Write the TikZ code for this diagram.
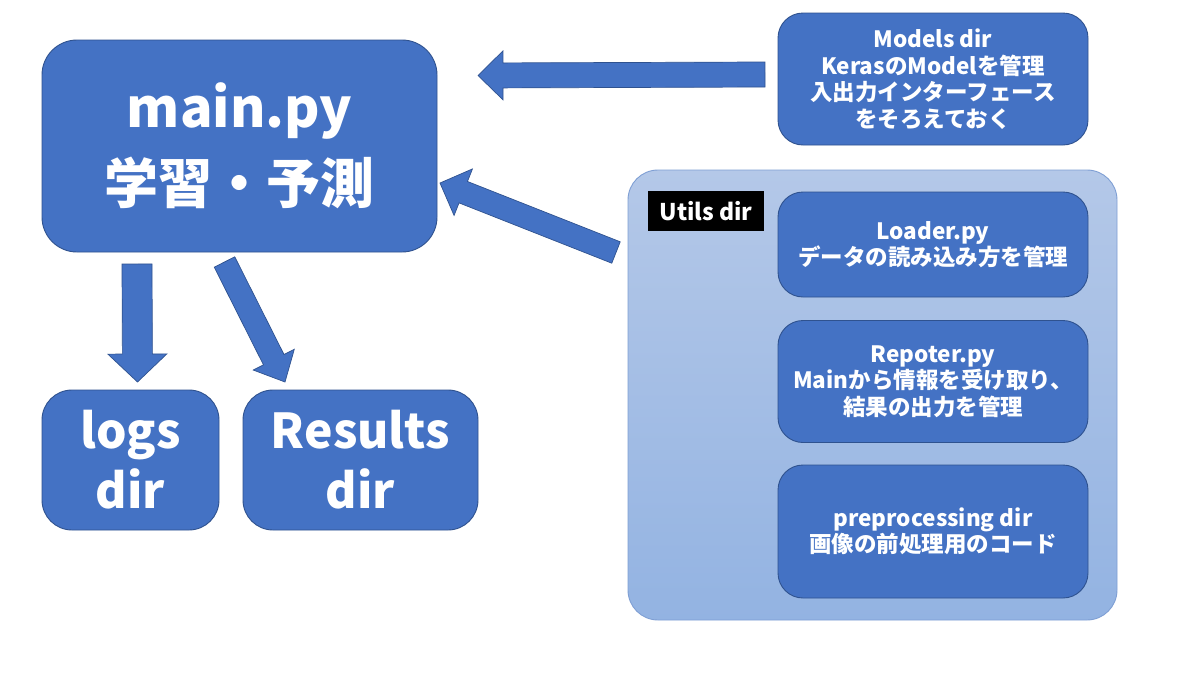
\documentclass[tikz,border=0pt]{standalone}
\usepackage{fontspec}
\setmainfont{Noto Sans CJK JP}
\usetikzlibrary{calc}
\definecolor{boxfill}{HTML}{4472C4}
\definecolor{boxline}{HTML}{2F528F}
\definecolor{utiltop}{HTML}{B4C8E8}
\definecolor{utilbot}{HTML}{93B3E2}
\definecolor{utilline}{HTML}{7F9FD4}
\tikzset{
  bluebox/.style={draw=boxline, line width=0.9pt, fill=boxfill, rounded corners=#1,
    text=white, align=center, inner sep=0pt},
  bluebox/.default=25pt,
  bigtext/.style={font=\bfseries\fontsize{54}{76}\selectfont},
  midtext/.style={font=\bfseries\fontsize{48}{60}\selectfont},
  smalltext/.style={font=\bfseries\fontsize{22.5}{26.5}\selectfont},
  utilsbox/.style={draw=utilline, line width=0.9pt, top color=utiltop, bottom color=utilbot,
    rounded corners=30pt, inner sep=0pt},
  tagbox/.style={fill=black, text=white, inner sep=0pt, font=\bfseries\fontsize{23}{26}\selectfont},
  arrowshape/.style={fill=boxfill, draw=boxline, line width=0.7pt, line join=miter},
}
\newcommand\blockarr[5]{%
  \coordinate (ba-h) at ($(#2)!#5!(#1)$);
  \draw[arrowshape] ($(#1)!#3!90:(#2)$) -- ($(ba-h)!#3!-90:(#1)$) -- ($(ba-h)!#4!-90:(#1)$)
    -- (#2) -- ($(ba-h)!#4!90:(#1)$) -- ($(ba-h)!#3!90:(#1)$) -- ($(#1)!#3!-90:(#2)$) -- cycle;
}
\begin{document}
\begin{tikzpicture}[x=1pt,y=-1pt]
\useasboundingbox[fill=white] (0,0) rectangle (1200,675);

% main boxes
\node[bluebox=35pt, bigtext, minimum width=395pt, minimum height=212pt] (main) at (239.5,146) {main.py\\学習・予測};
\node[bluebox=30pt, midtext, minimum width=177pt, minimum height=140pt] (logs) at (130.5,460) {logs\\dir};
\node[bluebox=30pt, midtext, minimum width=235pt, minimum height=140pt] (results) at (360.5,460) {Results\\dir};
\node[bluebox, smalltext, minimum width=310pt, minimum height=132pt] (models) at (933,79) {Models dir\\KerasのModelを管理\\入出力インターフェース\\をそろえておく};

% utils container
\node[utilsbox, minimum width=489pt, minimum height=450pt] (utils) at (872.5,395) {};
\node[tagbox, minimum width=116pt, minimum height=40pt] (utilstag) at (706,211) {Utils dir};
\node[bluebox, smalltext, minimum width=310pt, minimum height=105pt] (loader) at (933,244.5) {Loader.py\\データの読み込み方を管理};
\node[bluebox, smalltext, minimum width=310pt, minimum height=122pt] (repoter) at (933,381.5) {Repoter.py\\Mainから情報を受け取り、\\結果の出力を管理};
\node[bluebox, smalltext, minimum width=310pt, minimum height=133pt] (prep) at (933,531.5) {preprocessing dir\\画像の前処理用のコード};

% block arrows
\coordinate (a1t) at (765,74.5);  \coordinate (a1h) at (478,75.5);
\coordinate (a2t) at (616,252.5); \coordinate (a2h) at (440,183);
\coordinate (a3t) at (137,264);   \coordinate (a3h) at (137.5,382);
\coordinate (a4t) at (224.5,262); \coordinate (a4h) at (285,382);
\blockarr{a1t}{a1h}{12.5pt}{24.5pt}{25pt}
\blockarr{a2t}{a2h}{11.5pt}{25pt}{25pt}
\blockarr{a3t}{a3h}{15pt}{29.5pt}{28pt}
\blockarr{a4t}{a4h}{11.5pt}{23pt}{25pt}
\end{tikzpicture}
\end{document}
